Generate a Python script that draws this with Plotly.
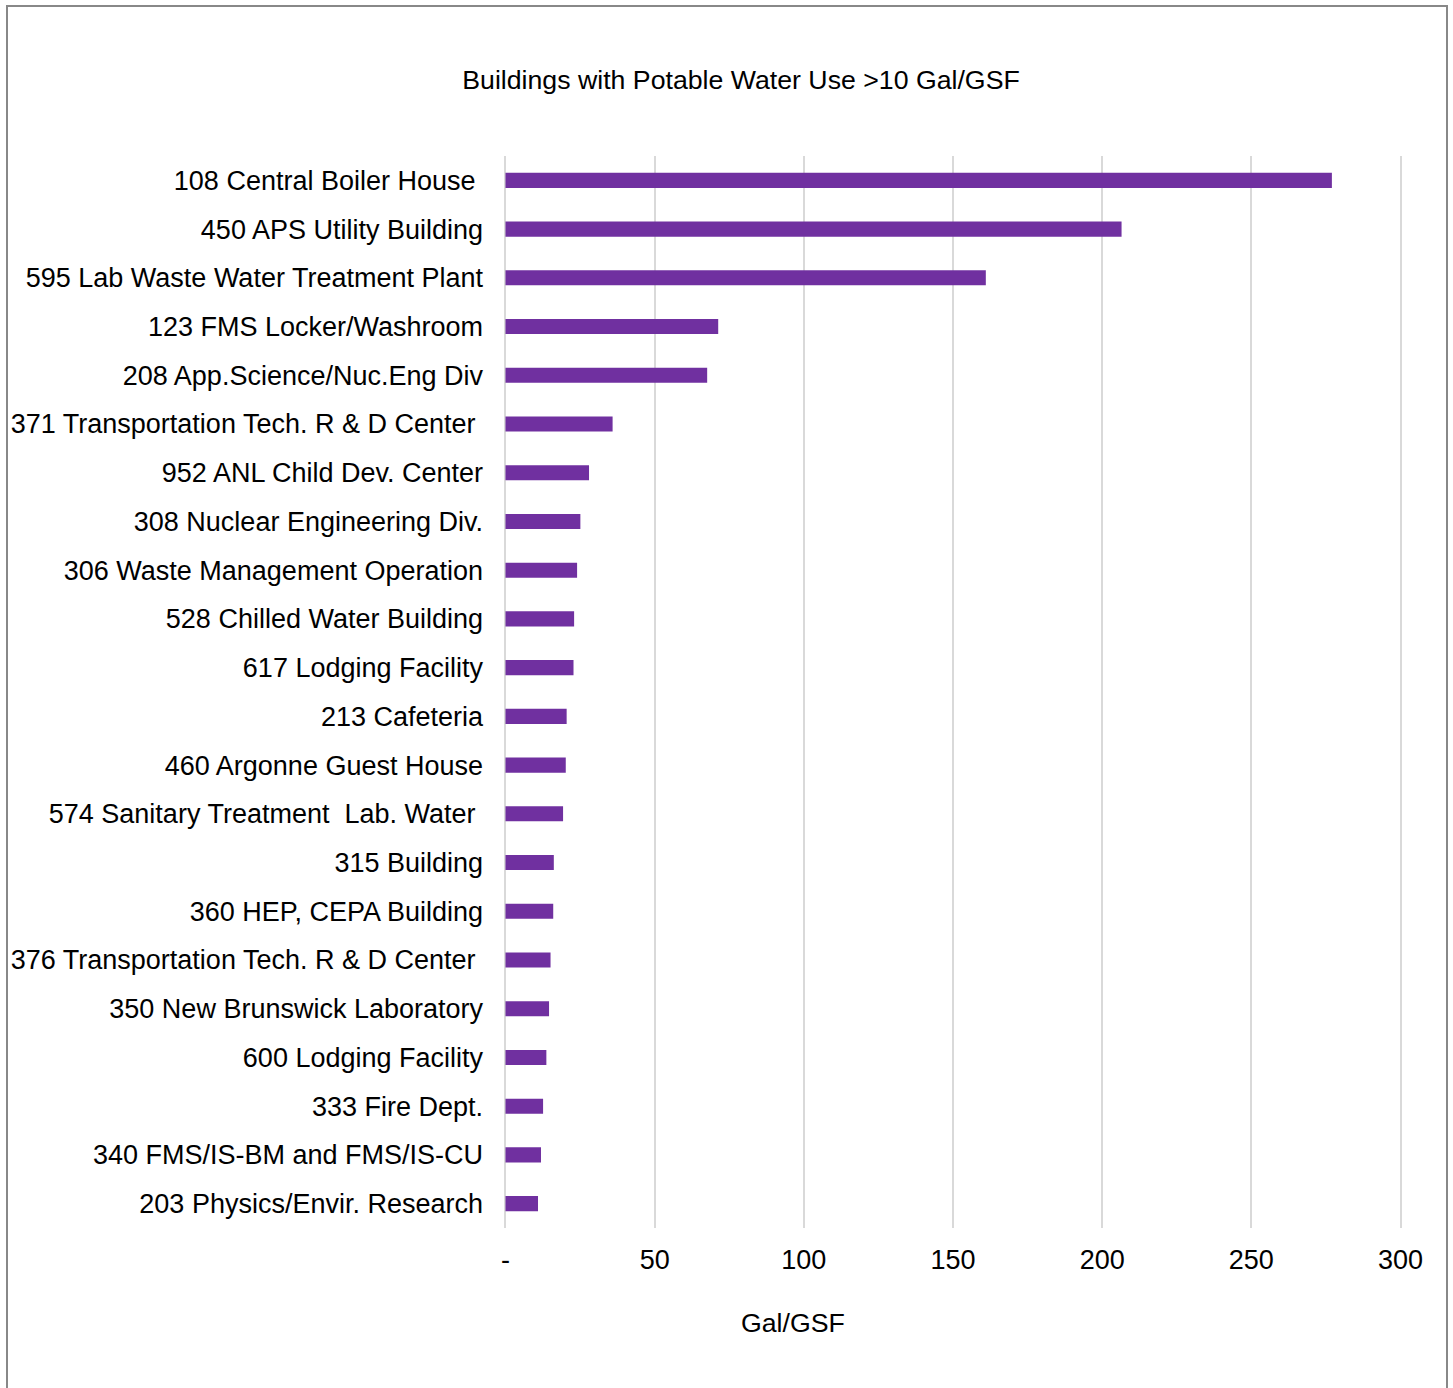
import plotly.graph_objects as go

# Buildings ranked by potable water use intensity (gallons per gross square foot)
buildings = [
    "108 Central Boiler House\u00a0",
    "450 APS Utility Building",
    "595 Lab Waste Water Treatment Plant",
    "123 FMS Locker/Washroom",
    "208 App.Science/Nuc.Eng Div",
    "371 Transportation Tech. R & D Center\u00a0",
    "952 ANL Child Dev. Center",
    "308 Nuclear Engineering Div.",
    "306 Waste Management Operation",
    "528 Chilled Water Building",
    "617 Lodging Facility",
    "213 Cafeteria",
    "460 Argonne Guest House",
    "574 Sanitary Treatment \u00a0Lab. Water\u00a0",
    "315 Building",
    "360 HEP, CEPA Building",
    "376 Transportation Tech. R & D Center\u00a0",
    "350 New Brunswick Laboratory",
    "600 Lodging Facility",
    "333 Fire Dept.",
    "340 FMS/IS-BM and FMS/IS-CU",
    "203 Physics/Envir. Research",
]
gal_per_gsf = [
    277.0, 206.5, 161.0, 71.3, 67.6, 35.9, 28.0, 25.1, 24.0, 23.0, 22.8,
    20.5, 20.2, 19.3, 16.2, 16.0, 15.1, 14.6, 13.7, 12.6, 11.9, 10.9,
]

tick_values = [0, 50, 100, 150, 200, 250, 300]
tick_labels = ["-", "50", "100", "150", "200", "250", "300"]

FONT = "Liberation Sans, Arial, sans-serif"
FS = 27
FS_TITLE = 26.7

L, R, T, B = 504, 51, 156, 160
W, H = 1453, 1388
PW, PH = W - L - R, H - T - B


def px_x(px):
    return (px - L) / PW


def px_y(py):
    return (H - B - py) / PH


fig = go.Figure(
    go.Bar(
        x=gal_per_gsf,
        y=buildings,
        orientation="h",
        width=0.31,
        marker=dict(color="#7030A0", line=dict(width=0)),
        hoverinfo="x+y",
    )
)

fig.update_layout(
    width=W,
    height=H,
    margin=dict(l=L, r=R, t=T, b=B, autoexpand=False),
    paper_bgcolor="white",
    plot_bgcolor="white",
    showlegend=False,
    font=dict(family=FONT, size=FS, color="#000000"),
    title=dict(
        text="Buildings with Potable Water Use >10 Gal/GSF",
        x=741 / W,
        xanchor="center",
        y=1 - 80 / H,
        yanchor="middle",
        font=dict(family=FONT, size=FS_TITLE, color="#000000"),
    ),
    xaxis=dict(
        range=[-0.5, 300.5],
        tickvals=tick_values,
        ticktext=tick_labels,
        showgrid=True,
        gridcolor="#d9d9d9",
        gridwidth=2,
        zeroline=False,
        showline=False,
        ticks="",
        ticklabelstandoff=13,
        tickfont=dict(family=FONT, size=FS, color="#000000"),
        automargin=False,
        fixedrange=True,
    ),
    yaxis=dict(
        autorange="reversed",
        showgrid=False,
        zeroline=False,
        showline=False,
        ticks="",
        ticklabelstandoff=20,
        tickfont=dict(family=FONT, size=FS, color="#000000"),
        automargin=False,
        fixedrange=True,
    ),
    annotations=[
        dict(
            text="Gal/GSF",
            xref="paper",
            yref="paper",
            x=px_x(793),
            y=px_y(1323),
            xanchor="center",
            yanchor="middle",
            showarrow=False,
            font=dict(family=FONT, size=FS_TITLE, color="#000000"),
        )
    ],
    shapes=[
        # chart frame
        dict(
            type="rect",
            xref="paper",
            yref="paper",
            x0=px_x(7),
            x1=px_x(1447),
            y0=px_y(1420),
            y1=px_y(6),
            line=dict(color="#888888", width=2),
            fillcolor="rgba(0,0,0,0)",
            layer="below",
        )
    ],
)

fig.write_html("out.html")
